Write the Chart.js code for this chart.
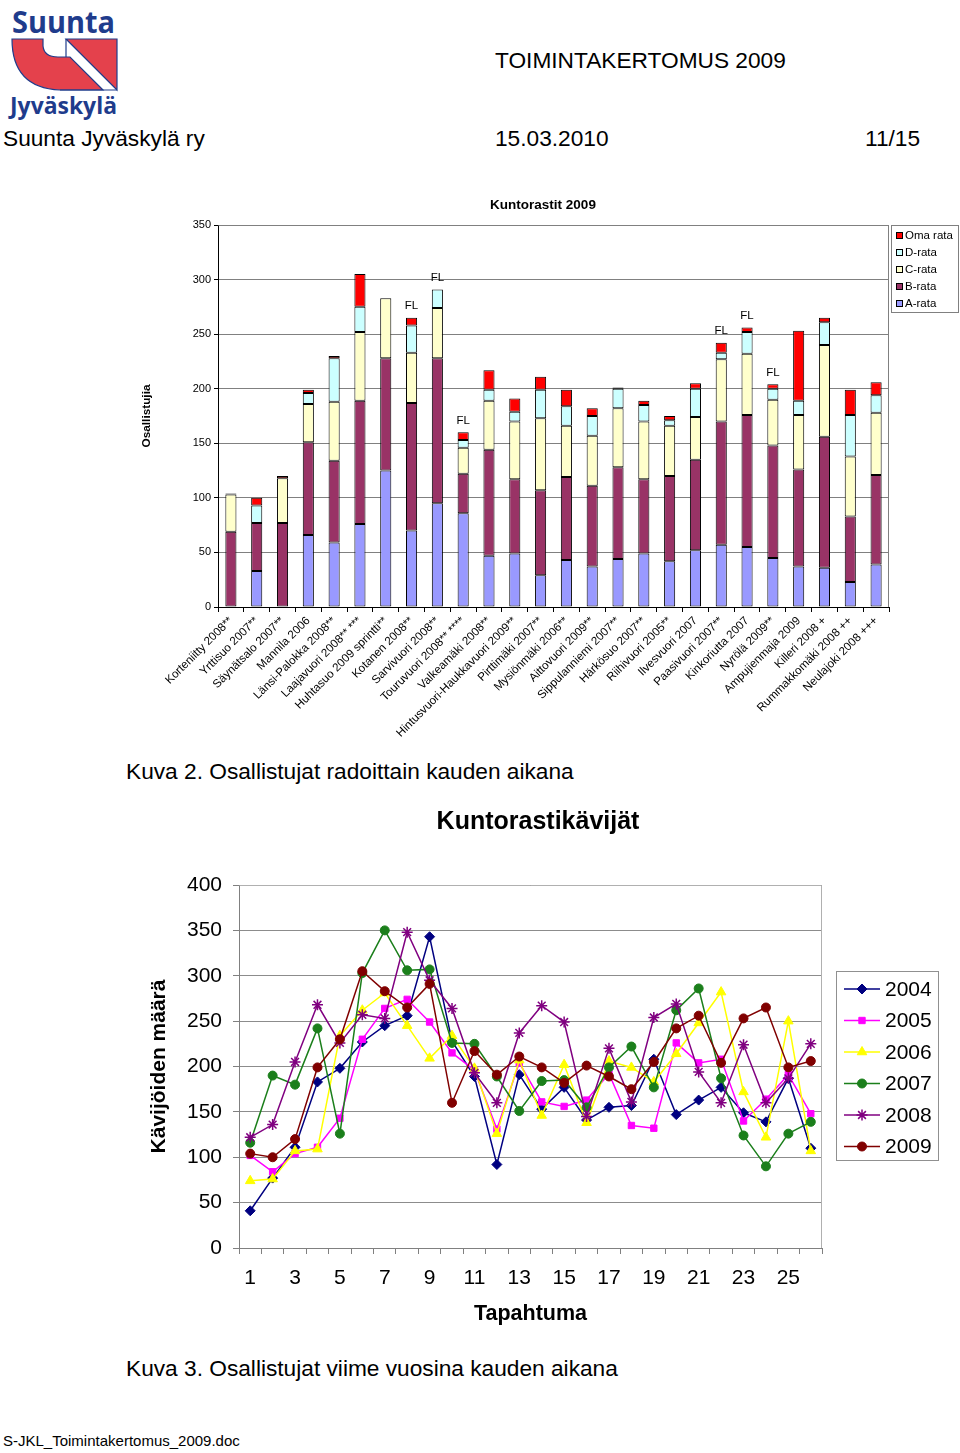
<!DOCTYPE html>
<html lang="fi">
<head>
<meta charset="utf-8">
<title>Kuntorastit 2009</title>
<script src="https://cdn.jsdelivr.net/npm/chart.js@4.4.1/dist/chart.umd.min.js"></script>
<style>
body{margin:0;width:960px;height:1453px;position:relative;background:#fff;font-family:"Liberation Sans",Arial,sans-serif;color:#000;overflow:hidden}
.t{position:absolute;white-space:nowrap;font-size:22.7px;line-height:24px}
#logo{position:absolute;left:0;top:0}
#bars{position:absolute;left:130px;top:190px}
#lines{position:absolute;left:130px;top:790px}
</style>
</head>
<body>

<svg id="logo" width="130" height="125" viewBox="0 0 130 125">
  <text x="12" y="33" font-family="'Open Sans','DejaVu Sans',sans-serif" font-weight="bold" font-size="31" fill="#1f3c8c" textLength="103" lengthAdjust="spacingAndGlyphs">Suunta</text>
  <path d="M12 39 H43 V46 Q44 57 58 57 H70 L103 90 H60 Q12 88 12 39 Z" fill="#e4414c" stroke="#1f3c8c" stroke-width="1.2"/>
  <polygon points="66,39 117,39 117,90" fill="#e4414c" stroke="#1f3c8c" stroke-width="1.2"/>
  <line x1="66" y1="39" x2="66" y2="57" stroke="#1f3c8c" stroke-width="1.2"/>
  <line x1="60" y1="90" x2="117" y2="90" stroke="#1f3c8c" stroke-width="1.2"/>
  <text x="10" y="114" font-family="'Open Sans','DejaVu Sans',sans-serif" font-weight="bold" font-size="23" fill="#1f3c8c" textLength="107" lengthAdjust="spacingAndGlyphs">Jyväskylä</text>
</svg>

<div class="t" style="left:495px;top:48px">TOIMINTAKERTOMUS 2009</div>
<div class="t" style="left:3px;top:126px">Suunta Jyväskylä ry</div>
<div class="t" style="left:495px;top:126px">15.03.2010</div>
<div class="t" style="left:865px;top:126px">11/15</div>

<canvas id="bars" width="830" height="560"></canvas>
<div class="t" style="left:126px;top:759px">Kuva 2. Osallistujat radoittain kauden aikana</div>

<canvas id="lines" width="830" height="560"></canvas>
<div class="t" style="left:126px;top:1356px">Kuva 3. Osallistujat viime vuosina kauden aikana</div>

<div class="t" style="left:3px;top:1433px;font-size:15px;line-height:16px">S-JKL_Toimintakertomus_2009.doc</div>

<script>
// ---- Kuntorastit 2009, osallistujat radoittain ----
const courses = [
  "Korteniitty 2008**", "Yrttisuo 2007**", "Säynätsalo 2007**", "Mannila 2006",
  "Länsi-Palokka 2008**", "Laajavuori 2008** ***", "Huhtasuo 2009 sprintti**",
  "Kotanen 2008**", "Sarvivuori 2008**", "Touruvuori 2008** ****", "Valkeamäki 2008**",
  "Hintusvuori-Haukkavuori 2009**", "Pirttimäki 2007**", "Mysiönmäki 2006**",
  "Aittovuori 2009**", "Sippulanniemi 2007**", "Härkösuo 2007**", "Riihivuori 2005**",
  "Ilvesvuori 2007", "Paasivuori 2007**", "Kinkoriutta 2007", "Nyrölä 2009**",
  "Ampujienmaja 2009", "Killeri 2008 +", "Rummakkomäki 2008 ++", "Neulajoki 2008 +++"
];
const aRata   = [0,33,0,66,59,76,125,70,95,86,47,49,29,43,37,44,49,42,52,57,55,45,37,36,23,39];
const bRata   = [69,44,77,85,75,113,103,117,133,36,97,68,78,76,74,84,68,78,83,113,121,103,89,120,60,82];
const cRata   = [34,0,41,35,54,63,55,46,46,24,45,53,66,47,46,54,53,46,39,57,56,42,50,84,55,57];
const dRata   = [1,16,0,10,40,23,0,25,17,7,10,9,26,18,18,18,15,5,26,6,20,10,13,21,38,16];
const omaRata = [0,7,2,3,2,30,0,7,0,7,18,12,12,15,7,1,4,4,5,9,4,4,64,4,23,12];
const flMarks = ["","","","","","","","FL","FL","FL","","","","","","","","","","FL","FL","FL","","","",""];
const barTicks = [0,50,100,150,200,250,300,350];

// ---- Kuntorastikävijät 2004-2009 ----
const events = ["1","2","3","4","5","6","7","8","9","10","11","12","13","14","15","16","17","18","19","20","21","22","23","24","25","26"];
const v2004 = [41,77,111,183,198,227,245,256,343,228,189,92,191,153,177,141,155,157,208,147,163,177,149,139,187,110];
const v2005 = [102,84,104,111,143,230,264,274,249,215,196,131,204,161,156,163,192,135,132,226,204,208,140,164,191,148];
const v2006 = [74,76,107,109,234,262,281,245,209,234,198,126,207,146,202,138,206,199,183,214,248,282,172,122,250,107];
const v2007 = [116,190,180,242,126,303,350,306,307,226,225,189,151,184,185,155,199,222,177,262,286,187,124,90,126,139];
const v2008 = [122,136,205,268,226,257,253,348,295,264,193,160,237,267,249,145,220,161,254,269,194,160,224,160,187,225];
const v2009 = [104,100,120,199,230,305,283,265,291,160,217,191,211,199,182,201,189,175,205,242,256,204,253,265,199,206];

const FAM = '"Liberation Sans", Arial, sans-serif';
Chart.defaults.font.family = FAM;
Chart.defaults.color = "#000";

// ---------- kuva 2: pinottu pylväs ----------
function barSet(label, data, color) {
  return {label, data, backgroundColor: color, borderColor: "#000", borderWidth: 1,
          borderSkipped: false, barPercentage: 0.43, categoryPercentage: 1};
}

const barExtras = {
  id: "barExtras",
  beforeDatasetsDraw(chart) {
    const {ctx, chartArea: a} = chart;
    ctx.save();
    ctx.strokeStyle = "#808080";
    ctx.lineWidth = 1;
    ctx.beginPath();
    ctx.moveTo(Math.round(a.left) + 0.5, Math.round(a.top) + 0.5);
    ctx.lineTo(Math.round(a.right) - 0.5, Math.round(a.top) + 0.5);
    ctx.lineTo(Math.round(a.right) - 0.5, Math.round(a.bottom));
    ctx.stroke();
    ctx.restore();
  },
  afterDraw(chart) {
    const ctx = chart.ctx;
    ctx.save();
    // otsikko
    ctx.font = "bold 13.5px " + FAM;
    ctx.fillStyle = "#000";
    ctx.textAlign = "center";
    ctx.textBaseline = "middle";
    ctx.fillText("Kuntorastit 2009", 413, 15);
    // FL-merkinnät pinon päälle
    const top = chart.getDatasetMeta(chart.data.datasets.length - 1);
    ctx.font = "11.5px " + FAM;
    flMarks.forEach((m, i) => {
      if (!m) return;
      const el = top.data[i];
      ctx.fillText(m, el.x, el.y - 12);
    });
    // selite
    ctx.strokeStyle = "#808080";
    ctx.lineWidth = 1;
    ctx.strokeRect(761.5, 35.5, 67, 87);
    ctx.textAlign = "left";
    const ds = chart.data.datasets;
    for (let k = 0; k < ds.length; k++) {
      const d = ds[ds.length - 1 - k];
      const y = 45.5 + 17 * k;
      ctx.fillStyle = d.backgroundColor;
      ctx.fillRect(766, Math.round(y - 3.5), 7, 7);
      ctx.strokeStyle = "#000";
      ctx.strokeRect(766.5, Math.round(y - 3.5) + 0.5, 6, 6);
      ctx.fillStyle = "#000";
      ctx.fillText(d.label, 775, y + 0.5);
    }
    ctx.restore();
  }
};

new Chart(document.getElementById("bars"), {
  type: "bar",
  data: {
    labels: courses,
    datasets: [
      barSet("A-rata", aRata, "#9999ff"),
      barSet("B-rata", bRata, "#993366"),
      barSet("C-rata", cRata, "#ffffcc"),
      barSet("D-rata", dRata, "#ccffff"),
      barSet("Oma rata", omaRata, "#ff0000")
    ]
  },
  options: {
    responsive: false,
    animation: false,
    layout: {padding: {top: 35, right: 71, left: 0, bottom: 0}},
    plugins: {legend: {display: false}, tooltip: {enabled: false}, title: {display: false}},
    scales: {
      x: {
        stacked: true,
        ticks: {font: {size: 11.6}, color: "#000", maxRotation: 45, minRotation: 45, autoSkip: false, padding: 2},
        grid: {offset: true, drawOnChartArea: false, tickLength: 5, tickColor: "#000"},
        border: {color: "#000"},
        afterFit(s) { s.height = 143; }
      },
      y: {
        stacked: true,
        min: barTicks[0],
        max: barTicks[barTicks.length - 1],
        afterBuildTicks(s) { s.ticks = barTicks.map(v => ({value: v})); },
        ticks: {font: {size: 11}, color: "#000", padding: 3},
        grid: {color: "#808080", tickLength: 4, tickColor: "#000"},
        border: {color: "#000"},
        title: {display: true, text: "Osallistujia", font: {size: 11.8, weight: "bold"}, color: "#000", padding: {top: 10, bottom: 0}},
        afterFit(s) { s.width = 88; }
      }
    }
  },
  plugins: [barExtras]
});

// ---------- kuva 3: viivakaavio ----------
const years = ["2004", "2005", "2006", "2007", "2008", "2009"];
const yearValues = [v2004, v2005, v2006, v2007, v2008, v2009];
const yearColors = ["#000080", "#ff00ff", "#ffff00", "#1b7f1b", "#800080", "#800000"];
const yearMarkers = ["rectRot", "rect", "triangle", "circle", "star", "circle"];
const markerRadius = [5, 4.5, 5.5, 4.5, 5.5, 4.5];

const lineExtras = {
  id: "lineExtras",
  beforeDatasetsDraw(chart) {
    const {ctx, chartArea: a} = chart;
    ctx.save();
    ctx.strokeStyle = "#b0b0b0";
    ctx.lineWidth = 1;
    ctx.beginPath();
    ctx.moveTo(Math.round(a.left) + 0.5, Math.round(a.top) + 0.5);
    ctx.lineTo(Math.round(a.right) - 0.5, Math.round(a.top) + 0.5);
    ctx.lineTo(Math.round(a.right) - 0.5, Math.round(a.bottom));
    ctx.stroke();
    ctx.restore();
  },
  afterDraw(chart) {
    const ctx = chart.ctx;
    ctx.save();
    ctx.font = "bold 25px " + FAM;
    ctx.fillStyle = "#000";
    ctx.textAlign = "center";
    ctx.textBaseline = "middle";
    ctx.fillText("Kuntorastikävijät", 408, 32);
    // selite
    ctx.strokeStyle = "#909090";
    ctx.lineWidth = 1;
    ctx.strokeRect(706.5, 181.5, 102, 189);
    ctx.textAlign = "left";
    ctx.font = "21px " + FAM;
    const drawPoint = Chart.helpers && Chart.helpers.drawPoint;
    chart.data.datasets.forEach((d, k) => {
      const y = 199 + 31.5 * k;
      ctx.strokeStyle = d.borderColor;
      ctx.lineWidth = d.borderWidth;
      ctx.beginPath();
      ctx.moveTo(714, y);
      ctx.lineTo(750, y);
      ctx.stroke();
      ctx.fillStyle = d.pointBackgroundColor;
      ctx.strokeStyle = d.pointBorderColor;
      ctx.lineWidth = d.pointBorderWidth;
      if (drawPoint) {
        drawPoint(ctx, {pointStyle: d.pointStyle, rotation: 0, radius: d.pointRadius, borderWidth: d.pointBorderWidth}, 732, y);
      } else {
        ctx.beginPath();
        ctx.arc(732, y, d.pointRadius, 0, Math.PI * 2);
        ctx.fill();
      }
      ctx.fillStyle = "#000";
      ctx.fillText(d.label, 755, y + 1);
    });
    ctx.restore();
  }
};

new Chart(document.getElementById("lines"), {
  type: "line",
  data: {
    labels: events,
    datasets: years.map((yr, k) => ({
      label: yr,
      data: yearValues[k],
      borderColor: yearColors[k],
      borderWidth: 1.5,
      pointStyle: yearMarkers[k],
      pointRadius: markerRadius[k],
      pointBackgroundColor: yearColors[k],
      pointBorderColor: yearColors[k],
      pointBorderWidth: yearMarkers[k] === "star" ? 1.5 : 1,
      fill: false,
      tension: 0,
      order: years.length - k
    }))
  },
  options: {
    responsive: false,
    animation: false,
    layout: {padding: {top: 95, right: 138, left: 0, bottom: 0}},
    plugins: {legend: {display: false}, tooltip: {enabled: false}, title: {display: false}},
    scales: {
      x: {
        offset: true,
        ticks: {font: {size: 21}, color: "#000", autoSkip: false, maxRotation: 0, padding: 12,
                callback: (v, i) => (i % 2 === 0 ? events[i] : "")},
        grid: {offset: true, drawOnChartArea: false, tickLength: 6, tickColor: "#808080"},
        border: {color: "#808080"},
        title: {display: true, text: "Tapahtuma", font: {size: 21.5, weight: "bold"}, color: "#000", padding: {top: 0, bottom: 23}},
        afterFit(s) { s.height = 102; }
      },
      y: {
        min: 0,
        max: 400,
        ticks: {stepSize: 50, font: {size: 21}, color: "#000", padding: 11},
        grid: {color: "#8c8c8c", tickLength: 6, tickColor: "#808080"},
        border: {color: "#808080"},
        title: {display: true, text: "Kävijöiden määrä", font: {size: 21, weight: "bold"}, color: "#000", padding: {top: 17, bottom: 0}},
        afterFit(s) { s.width = 109; }
      }
    }
  },
  plugins: [lineExtras]
});
</script>
</body>
</html>
